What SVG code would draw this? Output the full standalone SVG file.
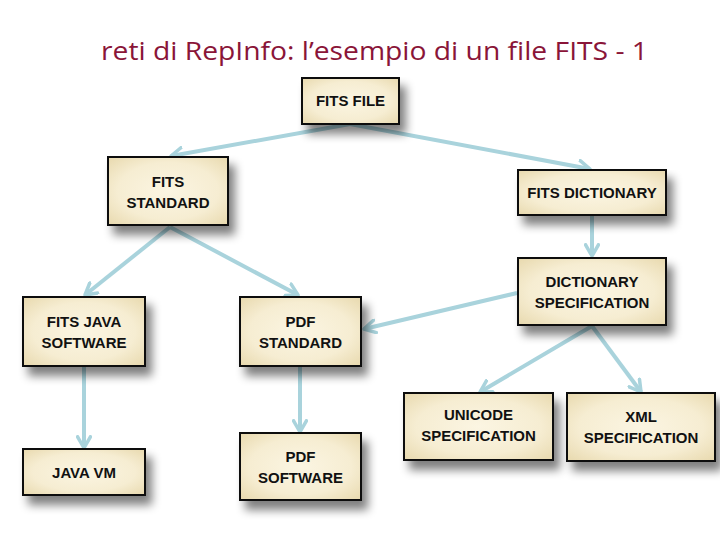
<svg xmlns="http://www.w3.org/2000/svg" width="720" height="540" viewBox="0 0 720 540">
<defs>
<style>
.box{fill:url(#bev);stroke:#111;stroke-width:2;filter:url(#sh)}
.lbl{font-family:"Liberation Sans",Arial,sans-serif;font-weight:bold;font-size:15px;fill:#111;text-anchor:middle}
.con{stroke:#a9d3dc;stroke-width:4;fill:none;marker-end:url(#arr)}
.title{font-family:"Open Sans","Liberation Sans",sans-serif;font-size:26px;fill:#8a1538}
</style>
<radialGradient id="bev" cx="50%" cy="50%" r="70%">
<stop offset="0" stop-color="#fbf5e2"/>
<stop offset="0.6" stop-color="#f6edd2"/>
<stop offset="1" stop-color="#e8d9ae"/>
</radialGradient>
<filter id="sh" x="-20%" y="-20%" width="160%" height="180%">
<feGaussianBlur in="SourceAlpha" stdDeviation="5"/>
<feOffset dx="6" dy="9" result="b"/>
<feComponentTransfer><feFuncA type="linear" slope="0.5"/></feComponentTransfer>
<feMerge><feMergeNode/><feMergeNode in="SourceGraphic"/></feMerge>
</filter>
<marker id="arr" viewBox="0 0 10 10" refX="8" refY="5" markerWidth="4" markerHeight="4" orient="auto" markerUnits="strokeWidth">
<path d="M1,1 L8,5 L1,9" fill="none" stroke="#a9d3dc" stroke-width="2.2" stroke-linecap="round" stroke-linejoin="round"/>
</marker>
</defs>
<rect width="720" height="540" fill="#fff"/>
<text class="title" x="101" y="60" textLength="547" lengthAdjust="spacingAndGlyphs">reti di RepInfo: l’esempio di un file FITS - 1</text>
<g id="connectors">
<line class="con" x1="350" y1="124" x2="171" y2="156"/>
<line class="con" x1="350" y1="124" x2="590" y2="169"/>
<line class="con" x1="170" y1="227" x2="85" y2="295"/>
<line class="con" x1="170" y1="227" x2="298" y2="295"/>
<line class="con" x1="592" y1="216" x2="592" y2="256"/>
<line class="con" x1="517" y1="293" x2="364" y2="329"/>
<line class="con" x1="592" y1="326" x2="480" y2="392"/>
<line class="con" x1="592" y1="326" x2="641" y2="392"/>
<line class="con" x1="84" y1="367" x2="84" y2="448"/>
<line class="con" x1="300" y1="367" x2="300" y2="432"/>
</g>
<g id="fits-file"><rect class="box" x="302" y="78" width="97" height="46"/><text class="lbl" x="350.5" y="106">FITS FILE</text></g>
<g id="fits-standard"><rect class="box" x="108" y="157" width="120" height="68"/><text class="lbl" x="168" y="187">FITS</text><text class="lbl" x="168" y="208">STANDARD</text></g>
<g id="fits-dictionary"><rect class="box" x="518" y="170" width="148" height="45"/><text class="lbl" x="592" y="198">FITS DICTIONARY</text></g>
<g id="dictionary-specification"><rect class="box" x="518" y="258" width="148" height="67"/><text class="lbl" x="592" y="287">DICTIONARY</text><text class="lbl" x="592" y="308">SPECIFICATION</text></g>
<g id="fits-java-software"><rect class="box" x="23" y="297" width="122" height="69"/><text class="lbl" x="84" y="327">FITS JAVA</text><text class="lbl" x="84" y="348">SOFTWARE</text></g>
<g id="pdf-standard"><rect class="box" x="240" y="297" width="121" height="69"/><text class="lbl" x="300.5" y="327">PDF</text><text class="lbl" x="300.5" y="348">STANDARD</text></g>
<g id="unicode-specification"><rect class="box" x="404" y="393" width="149" height="67"/><text class="lbl" x="478.5" y="420">UNICODE</text><text class="lbl" x="478.5" y="441">SPECIFICATION</text></g>
<g id="xml-specification"><rect class="box" x="567" y="393" width="148" height="68"/><text class="lbl" x="641" y="422">XML</text><text class="lbl" x="641" y="443">SPECIFICATION</text></g>
<g id="java-vm"><rect class="box" x="23" y="449" width="122" height="46"/><text class="lbl" x="84" y="478">JAVA VM</text></g>
<g id="pdf-software"><rect class="box" x="240" y="433" width="121" height="67"/><text class="lbl" x="300.5" y="462">PDF</text><text class="lbl" x="300.5" y="483">SOFTWARE</text></g>
</svg>
